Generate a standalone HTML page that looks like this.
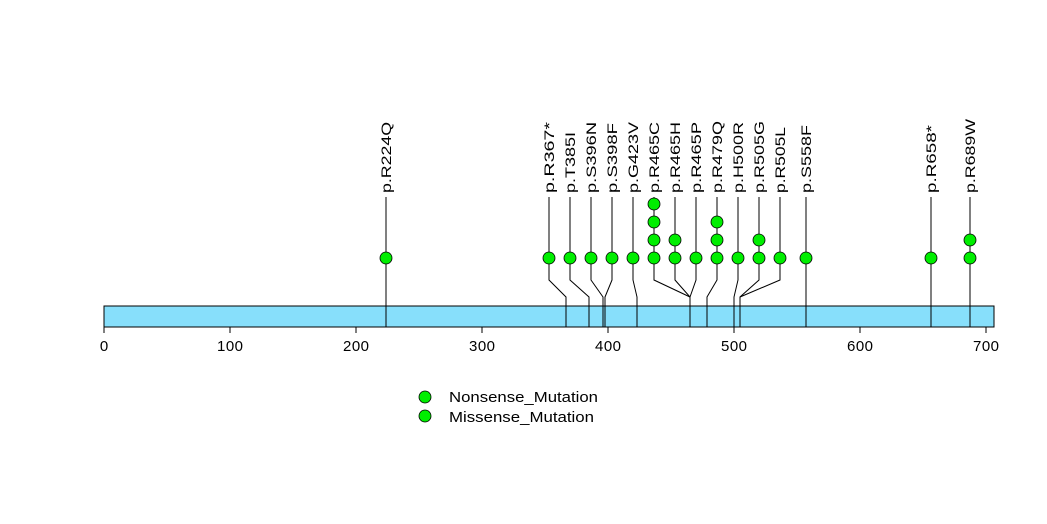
<!DOCTYPE html>
<html><head><style>body{margin:0;background:#fff}svg{display:block}</style></head><body>
<svg width="1047" height="524" xmlns="http://www.w3.org/2000/svg" font-family="Liberation Sans, sans-serif">
<rect x="104" y="306" width="890" height="21" fill="#87dffb" stroke="#000" stroke-width="1"/>
<g stroke="#000" stroke-width="1" fill="none">
<path d="M386 197V327"/>
<path d="M549 197V280L566 297V327"/>
<path d="M570 197V280L589 297V327"/>
<path d="M591 197V280L603 297V327"/>
<path d="M612 197V280L605 297V327"/>
<path d="M633 197V280L637 297V327"/>
<path d="M654 197V280L690 297V327"/>
<path d="M675 197V280L690 297"/>
<path d="M696 197V280L690 297"/>
<path d="M717 197V280L707 297V327"/>
<path d="M738 197V280L734 297V327"/>
<path d="M759 197V280L740 297V327"/>
<path d="M780 197V280L740 297"/>
<path d="M806 197V327"/>
<path d="M931 197V327"/>
<path d="M970 197V327"/>
<path d="M104 327V333M230 327V333M356 327V333M482 327V333M608 327V333M734 327V333M860 327V333M986 327V333"/>
</g>
<g fill="#00ee00" stroke="#000" stroke-width="0.8">
<circle cx="386" cy="258" r="6"/>
<circle cx="549" cy="258" r="6"/><circle cx="570" cy="258" r="6"/><circle cx="591" cy="258" r="6"/>
<circle cx="612" cy="258" r="6"/><circle cx="633" cy="258" r="6"/>
<circle cx="654" cy="258" r="6"/><circle cx="654" cy="240" r="6"/><circle cx="654" cy="222" r="6"/><circle cx="654" cy="204" r="6"/>
<circle cx="675" cy="258" r="6"/><circle cx="675" cy="240" r="6"/>
<circle cx="696" cy="258" r="6"/>
<circle cx="717" cy="258" r="6"/><circle cx="717" cy="240" r="6"/><circle cx="717" cy="222" r="6"/>
<circle cx="738" cy="258" r="6"/>
<circle cx="759" cy="258" r="6"/><circle cx="759" cy="240" r="6"/>
<circle cx="780" cy="258" r="6"/><circle cx="806" cy="258" r="6"/>
<circle cx="931" cy="258" r="6"/>
<circle cx="970" cy="258" r="6"/><circle cx="970" cy="240" r="6"/>
<circle cx="425" cy="397" r="6"/><circle cx="425" cy="416" r="6"/>
</g>
<g font-size="14" fill="#000" lengthAdjust="spacingAndGlyphs">
<text transform="translate(391,193) rotate(-90)" textLength="71" lengthAdjust="spacingAndGlyphs">p.R224Q</text>
<text transform="translate(554,193) rotate(-90)" textLength="71" lengthAdjust="spacingAndGlyphs">p.R367*</text>
<text transform="translate(575,193) rotate(-90)" textLength="61" lengthAdjust="spacingAndGlyphs">p.T385I</text>
<text transform="translate(596,193) rotate(-90)" textLength="71" lengthAdjust="spacingAndGlyphs">p.S396N</text>
<text transform="translate(617,193) rotate(-90)" textLength="70" lengthAdjust="spacingAndGlyphs">p.S398F</text>
<text transform="translate(638,193) rotate(-90)" textLength="71" lengthAdjust="spacingAndGlyphs">p.G423V</text>
<text transform="translate(659,193) rotate(-90)" textLength="71" lengthAdjust="spacingAndGlyphs">p.R465C</text>
<text transform="translate(680,193) rotate(-90)" textLength="71" lengthAdjust="spacingAndGlyphs">p.R465H</text>
<text transform="translate(701,193) rotate(-90)" textLength="71" lengthAdjust="spacingAndGlyphs">p.R465P</text>
<text transform="translate(722,193) rotate(-90)" textLength="72" lengthAdjust="spacingAndGlyphs">p.R479Q</text>
<text transform="translate(743,193) rotate(-90)" textLength="71" lengthAdjust="spacingAndGlyphs">p.H500R</text>
<text transform="translate(764,193) rotate(-90)" textLength="72" lengthAdjust="spacingAndGlyphs">p.R505G</text>
<text transform="translate(785,193) rotate(-90)" textLength="66" lengthAdjust="spacingAndGlyphs">p.R505L</text>
<text transform="translate(811,193) rotate(-90)" textLength="68" lengthAdjust="spacingAndGlyphs">p.S558F</text>
<text transform="translate(936,193) rotate(-90)" textLength="68" lengthAdjust="spacingAndGlyphs">p.R658*</text>
<text transform="translate(975,193) rotate(-90)" textLength="74" lengthAdjust="spacingAndGlyphs">p.R689W</text>
</g>
<g font-size="15" fill="#000" text-anchor="middle">
<text x="104" y="351">0</text><text x="230" y="351" textLength="26">100</text><text x="356" y="351" textLength="26">200</text>
<text x="482" y="351" textLength="26">300</text><text x="608" y="351" textLength="26">400</text><text x="734" y="351" textLength="26">500</text>
<text x="860" y="351" textLength="26">600</text><text x="986" y="351" textLength="26">700</text>
</g>
<g font-size="15" fill="#000">
<text x="449" y="402" textLength="149" lengthAdjust="spacingAndGlyphs">Nonsense_Mutation</text>
<text x="449" y="422" textLength="145" lengthAdjust="spacingAndGlyphs">Missense_Mutation</text>
</g>
</svg>
</body></html>
